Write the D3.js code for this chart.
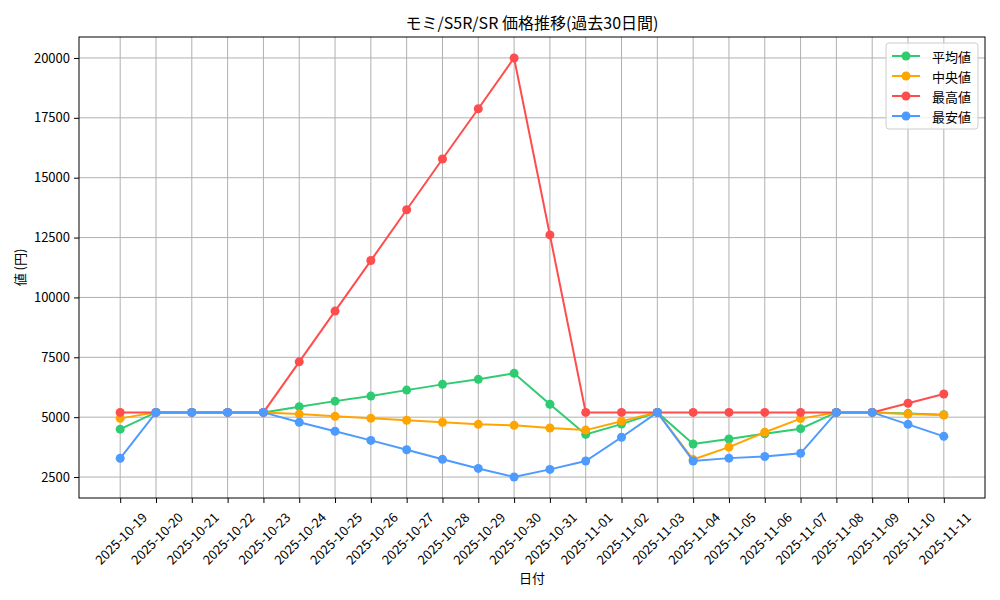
<!DOCTYPE html>
<html><head><meta charset="utf-8">
<script src="https://cdn.jsdelivr.net/npm/d3@7"></script>
<style>
html,body{margin:0;padding:0;background:#fff;}
text{font-family:"Noto Sans CJK JP","Noto Sans",sans-serif;fill:#000;}
</style></head>
<body><svg id="c" width="1000" height="600"></svg>
<script>
const dates = ["2025-10-19","2025-10-20","2025-10-21","2025-10-22","2025-10-23","2025-10-24","2025-10-25","2025-10-26","2025-10-27","2025-10-28","2025-10-29","2025-10-30","2025-10-31","2025-11-01","2025-11-02","2025-11-03","2025-11-04","2025-11-05","2025-11-06","2025-11-07","2025-11-08","2025-11-09","2025-11-10","2025-11-11"];
const avgValues = [4500,5200,5200,5200,5200,5440,5670,5880,6130,6370,6580,6830,5540,4280,4710,5200,3880,4090,4310,4520,5200,5200,5150,5100];
const medianValues = [4950,5200,5200,5200,5200,5130,5040,4950,4870,4790,4700,4660,4550,4460,4830,5200,3230,3750,4370,4940,5200,5200,5130,5090];
const maxValues = [5200,5200,5200,5200,5200,7310,9430,11540,13660,15780,17880,20000,12610,5200,5200,5200,5200,5200,5200,5200,5200,5200,5580,5970];
const minValues = [3280,5200,5200,5200,5200,4790,4410,4030,3640,3240,2860,2500,2820,3170,4160,5200,3170,3290,3360,3490,5200,5200,4700,4200];
const seriesNames = ["平均値","中央値","最高値","最安値"];
const seriesColors = ["#2ecc71","#ffa500","#ff4d4d","#4d9bff"];
const yTicks = [2500,5000,7500,10000,12500,15000,17500,20000];
const titleText = "モミ/S5R/SR 価格推移(過去30日間)";
const xLabel = "日付";
const yLabel = "値 (円)";

const series = [avgValues, medianValues, maxValues, minValues];
const svg = d3.select("#c");
const L = 79, R = 985, T = 37, B = 498;
const n = dates.length;
const x = d3.scaleLinear().domain([-0.05*(n-1), (n-1)*1.05]).range([L, R]);
const ymin = 2500, ymax = 20000, pad = (ymax-ymin)*0.05;
const y = d3.scaleLinear().domain([ymin-pad, ymax+pad]).range([B, T]);

// grid
const g = svg.append("g");
g.selectAll(".gx").data(dates).enter().append("line")
  .attr("x1",(d,i)=>x(i)).attr("x2",(d,i)=>x(i)).attr("y1",T).attr("y2",B)
  .attr("stroke","#b0b0b0").attr("stroke-width",1);
g.selectAll(".gy").data(yTicks).enter().append("line")
  .attr("x1",L).attr("x2",R).attr("y1",d=>y(d)).attr("y2",d=>y(d))
  .attr("stroke","#b0b0b0").attr("stroke-width",1);

// axes
const xAxis = d3.axisBottom(x).tickValues(d3.range(n)).tickFormat(i=>dates[i]).tickSize(5).tickPadding(3);
const xg = svg.append("g").attr("transform",`translate(0,${B})`).call(xAxis);
xg.select(".domain").remove();
xg.selectAll(".tick line").attr("stroke","#000");
xg.selectAll(".tick text")
  .attr("font-size","13px")
  .attr("text-anchor","middle")
  .attr("dominant-baseline","central")
  .attr("dy",null)
  .attr("y",0)
  .attr("transform","translate(0,40) rotate(-45)");

const yAxis = d3.axisLeft(y).tickValues(yTicks).tickFormat(d=>String(d)).tickSize(5).tickPadding(4);
const yg = svg.append("g").attr("transform",`translate(${L},0)`).call(yAxis);
yg.select(".domain").remove();
yg.selectAll(".tick line").attr("stroke","#000");
yg.selectAll(".tick text").attr("font-size","13px");

// frame
svg.append("rect").attr("x",L).attr("y",T).attr("width",R-L).attr("height",B-T)
  .attr("fill","none").attr("stroke","#000").attr("stroke-width",1);

// lines
const line = d3.line().x((d,i)=>x(i)).y(d=>y(d));
series.forEach((s,k)=>{
  const sg = svg.append("g");
  sg.append("path").datum(s).attr("d",line).attr("fill","none")
    .attr("stroke",seriesColors[k]).attr("stroke-width",2);
  sg.selectAll("circle").data(s).enter().append("circle")
    .attr("cx",(d,i)=>x(i)).attr("cy",d=>y(d)).attr("r",4.5)
    .attr("fill",seriesColors[k]);
});

// title & labels
svg.append("text").attr("x",(L+R)/2).attr("y",29).attr("text-anchor","middle")
  .attr("font-size","16px").text(titleText);
svg.append("text").attr("x",(L+R)/2).attr("y",583).attr("text-anchor","middle")
  .attr("font-size","13px").text(xLabel);
svg.append("text").attr("transform",`translate(25,${(T+B)/2}) rotate(-90)`)
  .attr("text-anchor","middle").attr("font-size","13px").text(yLabel);

// legend
const lg = svg.append("g").attr("transform","translate(886,43)");
lg.append("rect").attr("x",0).attr("y",0).attr("width",92).attr("height",86)
  .attr("rx",3).attr("fill","#fff").attr("fill-opacity",0.8).attr("stroke","#cccccc");
seriesNames.forEach((nm,k)=>{
  const yy = 13 + k*20;
  lg.append("line").attr("x1",6).attr("x2",34).attr("y1",yy).attr("y2",yy)
    .attr("stroke",seriesColors[k]).attr("stroke-width",2);
  lg.append("circle").attr("cx",20).attr("cy",yy).attr("r",4.5).attr("fill",seriesColors[k]);
  lg.append("text").attr("x",46).attr("y",yy).attr("dominant-baseline","central")
    .attr("font-size","13px").text(nm);
});
</script></body></html>
